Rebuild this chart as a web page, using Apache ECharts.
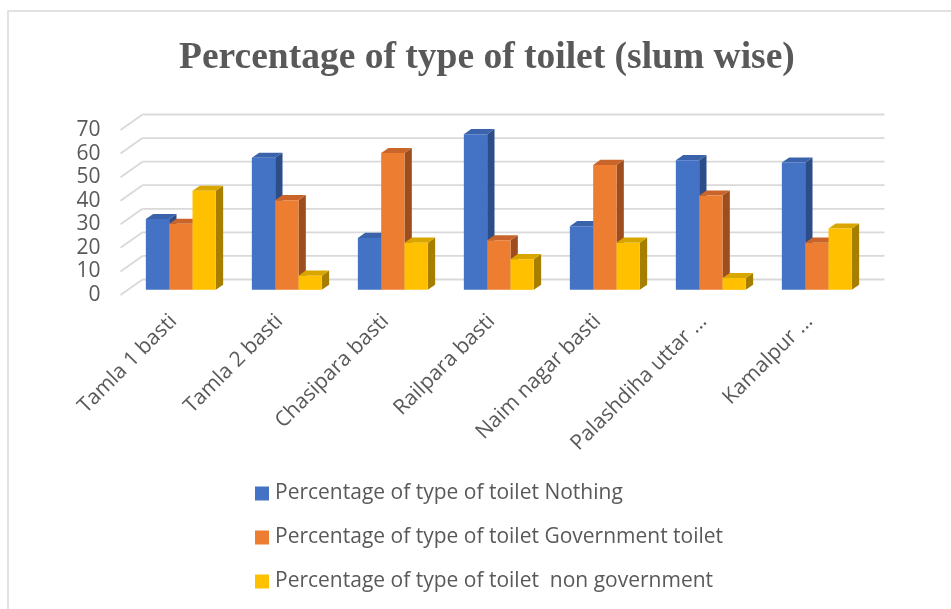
<!DOCTYPE html>
<html>
<head>
<meta charset="utf-8">
<style>
  html, body { margin: 0; padding: 0; background: #ffffff; }
  #chart { width: 951px; height: 609px; }
</style>
<script src="https://cdn.jsdelivr.net/npm/echarts@6/dist/echarts.min.js"></script>
</head>
<body>
<div id="chart"></div>
<script>
// Slum names shown on the category axis
const categories = [
  'Tamla 1 basti',
  'Tamla 2 basti',
  'Chasipara basti',
  'Railpara basti',
  'Naim nagar basti',
  'Palashdiha uttar ...',
  'Kamalpur ...'
];

// Percentage of households by type of toilet
const nothing = [30, 56, 22, 66, 27, 55, 54];
const governmentToilet = [28, 38, 58, 21, 53, 40, 20];
const nonGovernment = [42, 6, 20, 13, 20, 5, 26];

const seriesNames = [
  'Percentage of type of toilet Nothing',
  'Percentage of type of toilet Government toilet',
  'Percentage of type of toilet  non government'
];

const yTicks = [0, 10, 20, 30, 40, 50, 60, 70];

// Face colours per series: front, top, side
const palette = [
  { front: '#4472C4', top: '#3A63AC', side: '#2C4D88' },
  { front: '#ED7D31', top: '#C9642A', side: '#9E4E1E' },
  { front: '#FFC000', top: '#D9A600', side: '#A67F00' }
];

// Perspective of the pseudo-3D box
const DEPTH_DX = 22;     // full floor depth, horizontal shift
const DEPTH_DY = -15.5;  // full floor depth, vertical shift
const BAR_RATIO = 0.22;  // bar width as share of a category band

const labelFont = '"Open Sans", Lato, sans-serif';
const textColor = '#595959';

// Back wall and side wall gridlines for each tick value
function renderGrid(params, api) {
  const cs = params.coordSys;
  const y = api.coord([0, api.value(1)])[1];
  const x0 = cs.x;
  const x1 = cs.x + cs.width;
  const style = { stroke: '#D9D9D9', lineWidth: 1.8, fill: null };
  return {
    type: 'group',
    children: [
      { type: 'line', shape: { x1: x0, y1: y, x2: x0 + DEPTH_DX, y2: y + DEPTH_DY }, style },
      { type: 'line', shape: { x1: x0 + DEPTH_DX, y1: y + DEPTH_DY, x2: x1 + DEPTH_DX, y2: y + DEPTH_DY }, style }
    ]
  };
}

// One clustered 3D bar: front face, top face and right side face
function makeBarRenderer(seriesIdx) {
  const col = palette[seriesIdx];
  return function (params, api) {
    const catIdx = api.value(0);
    const val = api.value(1);
    const base = api.coord([catIdx, 0]);
    const topPt = api.coord([catIdx, val]);
    const band = api.size([1, 0])[0];
    const bw = band * BAR_RATIO;
    // bars sit one third deep into the floor and are one third deep
    const sx = DEPTH_DX / 3;
    const sy = DEPTH_DY / 3;
    const left = base[0] - bw * 1.5 + bw * seriesIdx + sx;
    const right = left + bw;
    const bottom = base[1] + sy;
    const top = topPt[1] + sy;
    return {
      type: 'group',
      children: [
        {
          type: 'polygon',
          shape: { points: [[right, top], [right + sx, top + sy], [right + sx, bottom + sy], [right, bottom]] },
          style: { fill: col.side }
        },
        {
          type: 'polygon',
          shape: { points: [[left, top], [left + sx, top + sy], [right + sx, top + sy], [right, top]] },
          style: { fill: col.top }
        },
        {
          type: 'rect',
          shape: { x: left, y: top, width: bw, height: bottom - top },
          style: { fill: col.front }
        }
      ]
    };
  };
}

const seriesValues = [nothing, governmentToilet, nonGovernment];

const series = [
  {
    type: 'custom',
    name: 'grid',
    renderItem: renderGrid,
    data: yTicks.map(t => [0, t]),
    encode: { x: 0, y: 1 },
    silent: true,
    z: 1,
    legendHoverLink: false
  }
].concat(seriesValues.map((vals, i) => ({
  type: 'custom',
  name: seriesNames[i],
  renderItem: makeBarRenderer(i),
  data: vals.map((v, k) => [k, v]),
  encode: { x: 0, y: 1 },
  itemStyle: { color: palette[i].front },
  z: 2 + i
})));

const chart = echarts.init(document.getElementById('chart'), null, { renderer: 'canvas' });
chart.setOption({
  animation: false,
  backgroundColor: '#ffffff',
  title: {
    text: 'Percentage of type of toilet (slum wise)',
    left: 174,
    top: 34,
    textStyle: {
      fontFamily: '"Liberation Serif", "DejaVu Serif", serif',
      fontWeight: 'bold',
      fontSize: 37.5,
      color: textColor
    }
  },
  graphic: [
    {
      type: 'rect',
      shape: { x: 8, y: 11, width: 1000, height: 700 },
      style: { fill: null, stroke: '#D9D9D9', lineWidth: 1.5 },
      silent: true,
      z: -1
    }
  ],
  legend: {
    orient: 'vertical',
    left: 255,
    top: 483,
    padding: 0,
    itemWidth: 14,
    itemHeight: 14,
    itemGap: 23,
    icon: 'rect',
    data: seriesNames,
    textStyle: { fontFamily: labelFont, fontSize: 21, color: textColor, padding: [0, 0, 0, 1] }
  },
  grid: {
    left: 120.5,
    top: 130,
    width: 742,
    height: 165,
    containLabel: false
  },
  xAxis: {
    type: 'category',
    data: categories,
    axisLine: { show: false },
    axisTick: { show: false },
    splitLine: { show: false },
    axisLabel: {
      rotate: 45,
      interval: 0,
      margin: 23,
      fontFamily: labelFont,
      fontSize: 21,
      color: textColor
    }
  },
  yAxis: {
    type: 'value',
    min: 0,
    max: 70,
    interval: 10,
    axisLine: { show: false },
    axisTick: { show: false },
    splitLine: { show: false },
    axisLabel: {
      margin: 20,
      fontFamily: labelFont,
      fontSize: 21,
      color: textColor
    }
  },
  series: series
});
</script>
</body>
</html>
